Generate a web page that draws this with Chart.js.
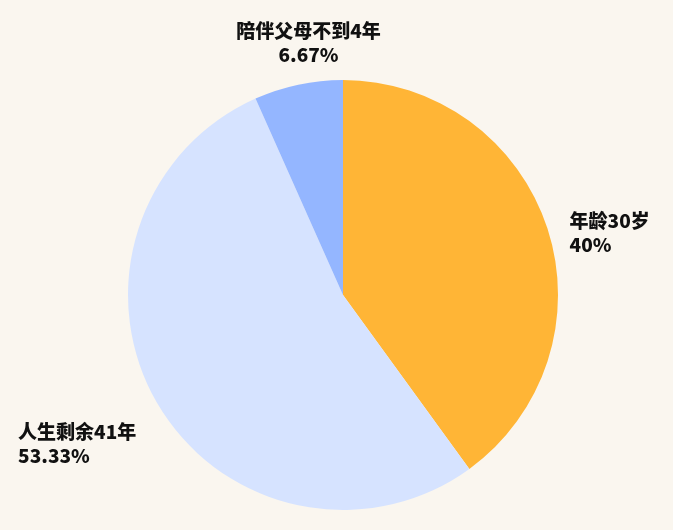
<!DOCTYPE html>
<html>
<head>
<meta charset="utf-8">
<script src="https://cdn.jsdelivr.net/npm/chart.js@4.4.0/dist/chart.umd.min.js"></script>
<style>
  html, body { margin: 0; padding: 0; background: #faf6ef; }
  #wrap { width: 673px; height: 530px; }
</style>
</head>
<body>
<div id="wrap"><canvas id="pie"></canvas></div>
<script>
const labels = ['年龄30岁', '人生剩余41年', '陪伴父母不到4年'];
const values = [40, 53.33, 6.67];
const colors = ['#ffb536', '#d6e3ff', '#94b6ff'];

const outerLabels = {
    id: 'outerLabels',
    afterDraw(chart) {
        const ctx = chart.ctx;
        const meta = chart.getDatasetMeta(0);
        ctx.save();
        ctx.font = '900 19px "Noto Sans CJK SC", sans-serif';
        ctx.fillStyle = '#111';
        ctx.textBaseline = 'middle';
        meta.data.forEach((arc, i) => {
            const p = arc.getProps(['x', 'y', 'startAngle', 'endAngle', 'outerRadius'], true);
            const mid = (p.startAngle + p.endAngle) / 2;
            const cos = Math.cos(mid), sin = Math.sin(mid);
            const R = p.outerRadius + 18;
            let x = p.x + R * cos;
            let y = p.y + R * sin;
            const lines = [labels[i], values[i] + '%'];
            const lh = 24;
            const w = Math.max(...lines.map(t => ctx.measureText(t).width));
            if (cos > 0.4) {
                ctx.textAlign = 'left';
                x += 5;
                y -= 2;
            } else if (cos < -0.4) {
                ctx.textAlign = 'left';
                x -= 5 + w;
                y += 20;
            } else {
                ctx.textAlign = 'center';
                x += 14;
                y -= lh * 1.5;
            }
            lines.forEach((t, k) => ctx.fillText(t, x, y + k * lh));
        });
        ctx.restore();
    }
};

new Chart(document.getElementById('pie'), {
    type: 'pie',
    data: {
        labels,
        datasets: [{
            data: values,
            backgroundColor: colors,
            borderWidth: 0
        }]
    },
    options: {
        responsive: true,
        maintainAspectRatio: false,
        animation: false,
        layout: { padding: { top: 80, bottom: 20, left: 100, right: 87 } },
        plugins: {
            legend: { display: false },
            tooltip: { enabled: false }
        }
    },
    plugins: [outerLabels]
});
</script>
</body>
</html>
